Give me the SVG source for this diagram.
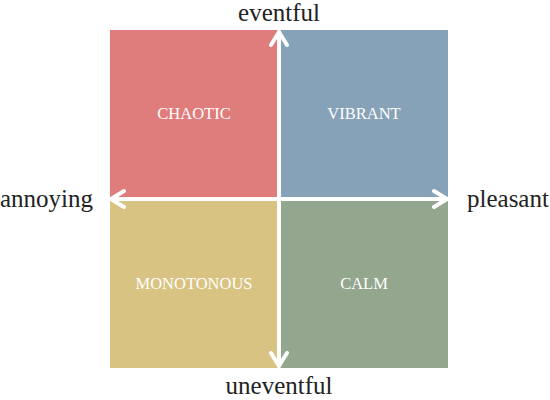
<svg xmlns="http://www.w3.org/2000/svg" width="550" height="400" viewBox="0 0 550 400">
<style>
.ax{font-family:"Liberation Serif",serif;font-size:25px;fill:#222}
.q{font-family:"Liberation Serif",serif;font-size:16.5px;fill:#fff;text-anchor:middle}
.arr{stroke:#fff;stroke-width:4;fill:none;stroke-linecap:round;stroke-linejoin:round}
</style>
<rect width="550" height="400" fill="#fff"/>
<g id="chaotic"><rect x="110" y="30" width="169" height="169" fill="#DF7C7C"/><text class="q" x="194" y="119">CHAOTIC</text></g>
<g id="vibrant"><rect x="279" y="30" width="169" height="169" fill="#86A2B8"/><text class="q" x="364" y="119">VIBRANT</text></g>
<g id="monotonous"><rect x="110" y="199" width="169" height="169" fill="#D9C382"/><text class="q" x="194" y="289">MONOTONOUS</text></g>
<g id="calm"><rect x="279" y="199" width="169" height="169" fill="#93A68E"/><text class="q" x="364" y="289">CALM</text></g>
<g id="connectors">
<path class="arr" d="M279 32 V366 M111 199 H447"/>
<path class="arr" d="M271 45 L279 32 L287 45 M271 353 L279 366 L287 353 M124 191 L111 199 L124 207 M434 191 L447 199 L434 207"/>
</g>
<g id="labels">
<text class="ax" x="279" y="21" text-anchor="middle">eventful</text>
<text class="ax" x="279" y="394" text-anchor="middle">uneventful</text>
<text class="ax" x="0" y="207">annoying</text>
<text class="ax" x="467" y="207">pleasant</text>
</g>
</svg>
